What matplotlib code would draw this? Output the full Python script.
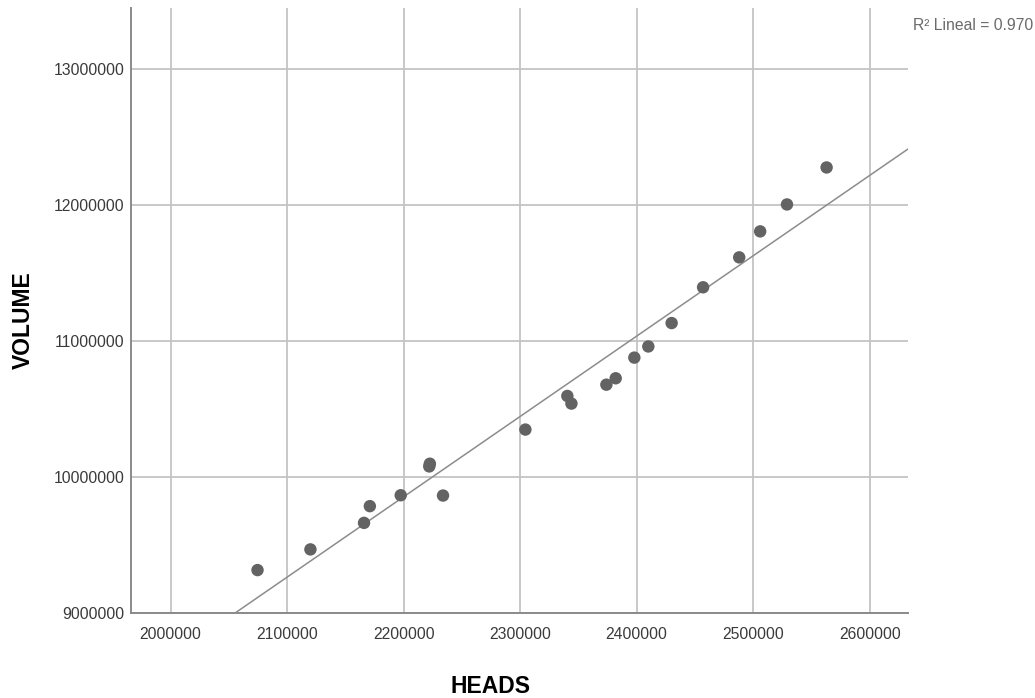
import matplotlib
matplotlib.use("Agg")
import matplotlib.pyplot as plt
import numpy as np

# HEADS vs VOLUME
heads = [2074600, 2120000, 2166000, 2171000, 2197500, 2222000, 2222500, 2233800,
         2304500, 2340500, 2344000, 2374000, 2382000, 2398000, 2410000, 2430000,
         2457000, 2488000, 2506000, 2529000, 2563000]
volume = [9318000, 9470000, 9665000, 9788000, 9868000, 10080000, 10100000, 9866000,
          10351000, 10598000, 10542000, 10681000, 10728000, 10880000, 10962000, 11134000,
          11397000, 11617000, 11808000, 12006000, 12278000]

x_ticks = [2000000, 2100000, 2200000, 2300000, 2400000, 2500000, 2600000]
y_ticks = [9000000, 10000000, 11000000, 12000000, 13000000]
r2_label = "R² Lineal = 0.970"

plt.rcParams['font.family'] = ['Liberation Sans', 'DejaVu Sans']

fig = plt.figure(figsize=(10.35, 6.98), dpi=100)
ax = fig.add_axes([0.127, 0.1213, 0.75, 0.8672])

xlim = (1966400, 2632600)
ylim = (9000000, 13450000)

ax.grid(True, color='#c4c4c4', linewidth=1.3)
ax.set_axisbelow(True)

ax.scatter(heads, volume, s=80, color='#636363', edgecolors='none', zorder=3)

# linear fit line
slope, intercept = np.polyfit(heads, volume, 1)
xs = np.array(xlim)
ax.plot(xs, slope * xs + intercept, color='#8c8c8c', linewidth=1.1, zorder=2)

ax.set_xlim(*xlim)
ax.set_ylim(*ylim)
ax.set_xticks(x_ticks)
ax.set_yticks(y_ticks)
ax.set_xticklabels([str(v) for v in x_ticks])
ax.set_yticklabels([str(v) for v in y_ticks])
ax.tick_params(length=0, labelsize=11.3, labelcolor='#3a3a3a')
ax.tick_params(axis='x', pad=10)
ax.tick_params(axis='y', pad=5)

for side in ['top', 'right']:
    ax.spines[side].set_visible(False)
for side in ['left', 'bottom']:
    ax.spines[side].set_color('#8a8a8a')
    ax.spines[side].set_linewidth(1.4)

ax.set_xlabel('HEADS', fontsize=16.5, fontweight='bold', va='top')
ax.xaxis.set_label_coords(0.463, -0.102)
ax.set_ylabel('VOLUME', fontsize=16.5, fontweight='bold')
ax.yaxis.set_label_coords(-0.124, 0.485)

fig.text(913 / 1035, 1 - 25 / 698, r2_label, fontsize=11.3, color='#6a6a6a',
         ha='left', va='center')

fig.savefig('out.png', dpi=100)
